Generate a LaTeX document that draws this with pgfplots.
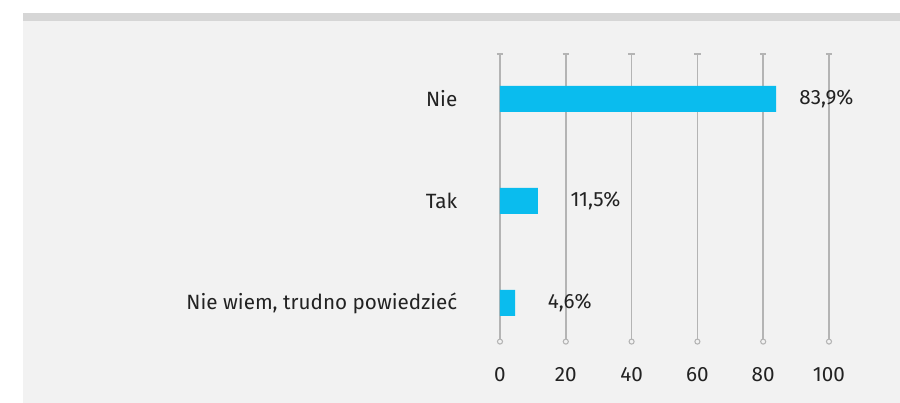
\documentclass[border=0pt]{standalone}
\usepackage{pgfplots}
\pgfplotsset{compat=1.18}
\usepackage{fontspec}
\setmainfont{Fira Sans}

\definecolor{panel}{HTML}{F2F2F2}
\definecolor{band}{HTML}{D6D6D6}
\definecolor{barblue}{HTML}{0ABCEE}
\definecolor{gridgray}{HTML}{B4B4B4}
\definecolor{txt}{HTML}{222222}

\begin{document}
\begin{tikzpicture}
% background: 1px = 0.75pt, axis origin at pixel (500,340)
\fill[white] (-375pt,-47.25pt) rectangle (300pt,255pt);
\fill[panel] (-357.75pt,-47.25pt) rectangle (300pt,239.25pt);
\fill[band] (-357.75pt,239.25pt) rectangle (300pt,245.25pt);

\begin{axis}[
    at={(0,0)}, anchor=south west,
    scale only axis,
    width=246.75pt, height=214.5pt,
    xmin=0, xmax=100,
    ymin=-0.363, ymax=2.441,
    axis line style={draw=none},
    xbar, bar width=19.5pt,
    xtick={0,20,...,100},
    ytick={0,1,2},
    yticklabels={{Nie wiem, trudno powiedzieć}, Tak, Nie},
    major tick length=0pt,
    /pgf/number format/assume math mode=true,
    tick label style={font=\fontsize{15.5}{18}\selectfont, text=txt},
    xticklabel style={anchor=center, yshift=-26pt},
    yticklabel style={anchor=east, xshift=-28.5pt},
    nodes near coords={\ifcase\coordindex\hspace{7pt}\or\hspace{7pt}\or\fi
        \pgfmathprintnumber[use comma, fixed, precision=1, fixed zerofill]{\pgfplotspointmeta}\%},
    nodes near coords style={anchor=west, xshift=14pt, text=txt,
        font=\fontsize{15.5}{18}\selectfont},
    clip=false,
]
\pgfplotsinvokeforeach{0,20,40,60,80,100}{
    \draw[gridgray, line width=1.3pt] (axis cs:#1,-0.363) -- (axis cs:#1,2.441);
    \draw[gridgray, line width=1.1pt] ([xshift=-2.4pt]axis cs:#1,2.441) -- ([xshift=2.4pt]axis cs:#1,2.441);
    \draw[gridgray, line width=0.8pt, fill=panel] ([yshift=-1.2pt]axis cs:#1,-0.363) circle[radius=1.9pt];
}
\addplot[fill=barblue, draw=none] coordinates {(4.6,0) (11.5,1) (83.9,2)};
\end{axis}
\end{tikzpicture}
\end{document}
